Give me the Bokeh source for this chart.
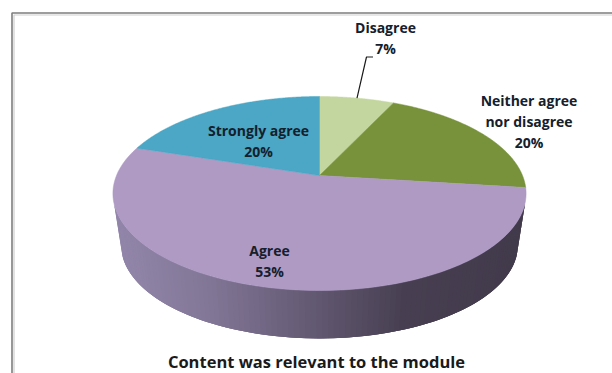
import numpy as np
from bokeh.core.properties import value
from bokeh.embed import file_html
from bokeh.models import Range1d
from bokeh.plotting import figure
from bokeh.resources import INLINE

title = "Content was relevant to the module"
categories = ["Disagree", "Neither agree\nnor disagree", "Agree", "Strongly agree"]
values = [7, 20, 53, 20]
colors = ["#c3d69f", "#77923b", "#af9ac4", "#4ba7c5"]

# Centre of each label block, in page pixels
label_x = [385, 528.5, 269, 258]
label_y = [37.5, 120.5, 260, 140]
LINE_GAP = 21

# Tilted disc: a projective view of the unit circle
CX, CY = 319, 175
BX, AY, K = 203, 93.66, 0.1856
# Underside rim of the disc
LOW_SCALE, LOW_CY = 0.96, 227.5


def rim(theta, scale=1.0, cy=CY):
    """theta runs clockwise from twelve o'clock, in radians."""
    u, v = np.sin(theta), np.cos(theta)
    w = 1 + K * v
    return CX + scale * BX * u / w, cy - scale * AY * v / w


def side_color(x):
    stops_x = [115, 200, 300, 400, 525]
    r = np.interp(x, stops_x, [146, 132, 102, 72, 66])
    g = np.interp(x, stops_x, [134, 120, 92, 64, 59])
    b = np.interp(x, stops_x, [170, 152, 118, 82, 76])
    return "#%02x%02x%02x" % (int(r), int(g), int(b))


p = figure(width=612, height=373, x_range=Range1d(0, 612), y_range=Range1d(373, 0),
           output_backend="svg", toolbar_location=None, min_border=0,
           outline_line_color=None, background_fill_color="white",
           border_fill_color="white")
p.axis.visible = False
p.grid.visible = False

# Frame along the top and left of the chart area
p.line([11.5, 11.5, 612], [373, 12.5, 12.5], line_color="#7d7d7d", line_width=1.6)
p.line([13.5, 13.5, 612], [373, 14.5, 14.5], line_color="#cfcfcf", line_width=1.2)

# Side wall: strips shaded left to right, each overlapping the next so no seams show
edges = np.radians(np.linspace(254, 106, 110))
xs, ys, fills = [], [], []
for i in range(len(edges) - 1):
    a, b = edges[i], edges[min(i + 3, len(edges) - 1)]
    xa, ya = rim(a)
    xb, yb = rim(b)
    xm, ym = rim((a + b) / 2)
    xc, yc = rim(b, LOW_SCALE, LOW_CY)
    xe, ye = rim((a + b) / 2, LOW_SCALE, LOW_CY)
    xd, yd = rim(a, LOW_SCALE, LOW_CY)
    xs.append([xa, xm, xb, xc, xe, xd])
    ys.append([ya, ym, yb, yc, ye, yd])
    fills.append(side_color(xa))
p.patches(xs, ys, fill_color=fills, line_color=None)

# Top face: slices run clockwise from twelve o'clock
fractions = np.array(values) / sum(values)
ends = np.cumsum(fractions) * 2 * np.pi
starts = ends - fractions * 2 * np.pi
for a, b, c in zip(starts, ends, colors):
    t = np.linspace(a, b, 160)
    x, y = rim(t)
    p.patch(np.r_[CX, x], np.r_[CY, y], fill_color=c, line_color=c, line_width=0.5)

# Leader from the smallest slice up to its label
lx, ly = rim((starts[0] + ends[0]) / 2)
p.line([lx, lx + 9.5, lx + 16], [ly, 56.5, 56.5], line_color="#1a1a1a", line_width=1.2)

# Slice labels, one text row per line
tx, ty, tt = [], [], []
for name, val, x0, y0 in zip(categories, values, label_x, label_y):
    rows = name.split("\n") + [f"{val}%"]
    for i, row in enumerate(rows):
        tx.append(x0)
        ty.append(y0 + (i - (len(rows) - 1) / 2) * LINE_GAP)
        tt.append(row)
p.text(tx, ty, text=tt, text_align="center", text_baseline="middle",
       text_font=value("Open Sans"), text_font_style="bold", text_font_size="14px",
       text_color="#14202c")

p.text([316], [361], text=[title], text_align="center", text_baseline="middle",
       text_font=value("Open Sans"), text_font_style="bold", text_font_size="16.5px",
       text_color="#1a1a1a")

open("out.html", "w").write(file_html(p, INLINE))
